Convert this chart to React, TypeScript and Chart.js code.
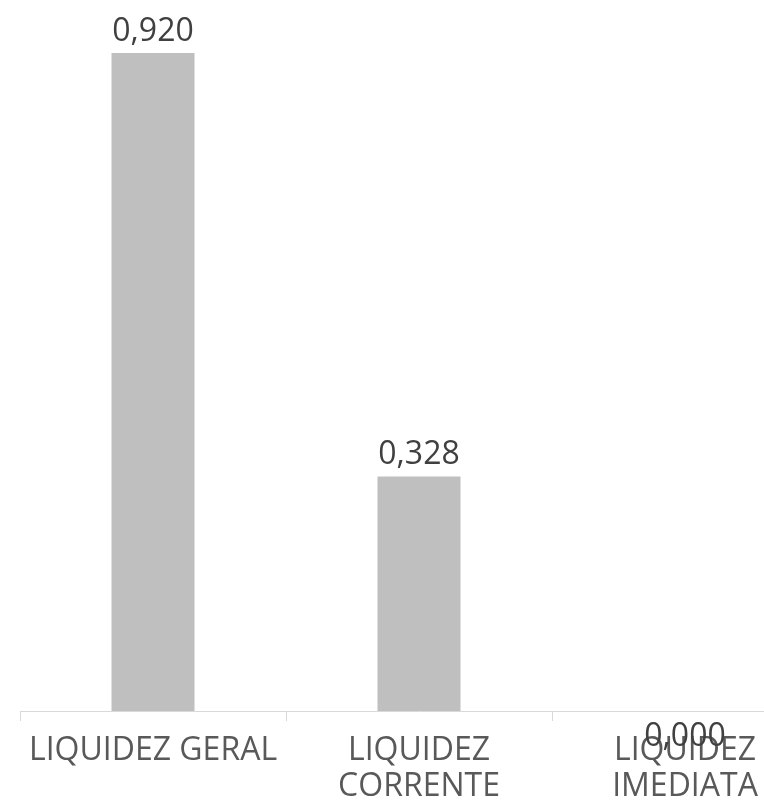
import React, { useEffect, useRef } from "react";
import { Chart, registerables } from "chart.js";

Chart.register(...registerables);

const categories: string[][] = [["LIQUIDEZ GERAL"], ["LIQUIDEZ", "CORRENTE"], ["LIQUIDEZ", "IMEDIATA"]];
const values: number[] = [0.92, 0.328, 0.0];

const FONT = "'Open Sans', sans-serif";

const valueLabels = {
  id: "valueLabels",
  afterDatasetsDraw(chart: any) {
    const ctx = chart.ctx;
    const meta = chart.getDatasetMeta(0);
    ctx.save();
    ctx.font = `32px ${FONT}`;
    ctx.fillStyle = "#404040";
    ctx.textAlign = "center";
    ctx.textBaseline = "alphabetic";
    meta.data.forEach((bar: any, i: number) => {
      const v = values[i];
      const txt = v.toFixed(3).replace(".", ",");
      if (v === 0) {
        ctx.fillText(txt, bar.x, bar.y + 35);
      } else {
        ctx.fillText(txt, bar.x, bar.y - 12);
      }
    });
    ctx.restore();
  },
};

export default function App() {
  const ref = useRef<HTMLCanvasElement>(null);
  useEffect(() => {
    if (!ref.current) return;
    const chart = new Chart(ref.current, {
      type: "bar",
      data: {
        labels: categories,
        datasets: [
          {
            data: values,
            backgroundColor: "#BFBFBF",
            barPercentage: 0.312,
            categoryPercentage: 1,
          },
        ],
      },
      options: {
        animation: false,
        responsive: false,
        layout: { padding: { left: 20, right: 0, top: 0, bottom: 0 } },
        plugins: { legend: { display: false }, tooltip: { enabled: false } },
        scales: {
          x: {
            afterFit: (axis: any) => {
              axis.height = 90;
            },
            grid: {
              offset: true,
              drawOnChartArea: false,
              drawTicks: true,
              tickLength: 10,
              color: "#D9D9D9",
            },
            border: { color: "#D9D9D9" },
            ticks: {
              color: "#595959",
              font: { family: FONT, size: 32, lineHeight: 1.12 },
              maxRotation: 0,
              autoSkip: false,
              padding: 12,
            },
          },
          y: {
            display: false,
            min: 0,
            max: 0.994,
          },
        },
      },
      plugins: [valueLabels],
    });
    return () => chart.destroy();
  }, []);
  return (
    <div style={{ position: "fixed", left: 0, top: 0, width: 764, height: 801, overflow: "hidden", background: "#fff" }}>
      <canvas ref={ref} width={818} height={801} style={{ display: "block" }} />
    </div>
  );
}
